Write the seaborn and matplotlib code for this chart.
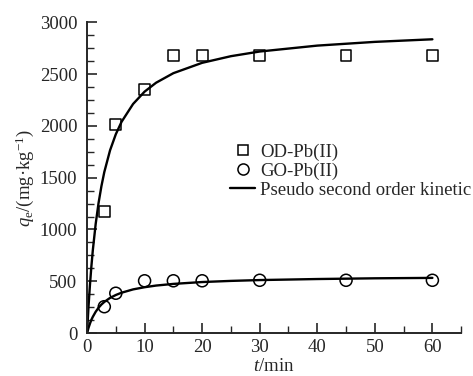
import numpy as np
import pandas as pd
import matplotlib
matplotlib.use("Agg")
import matplotlib.pyplot as plt
import seaborn as sns
from matplotlib.ticker import MultipleLocator
from matplotlib.lines import Line2D

# Experimental data
t_exp = [3, 5, 10, 15, 20, 30, 45, 60]
od_q = [1170, 2010, 2350, 2680, 2680, 2680, 2680, 2680]
go_q = [255, 385, 505, 505, 505, 510, 510, 510]

# Fitted curve
t_fit = [0, 0.25, 0.5, 0.75, 1, 1.5, 2, 2.5, 3, 4, 5, 6, 8, 10, 12, 15, 20, 25, 30, 40, 50, 60]
od_fit = [0, 250, 460, 640, 797, 1053, 1255, 1418, 1554, 1764, 1919, 2039, 2211, 2330, 2416,
          2508, 2608, 2672, 2717, 2774, 2810, 2835]
go_fit = [0, 50, 91, 128, 157, 206, 245, 276, 301, 340, 368, 390, 422, 443, 459,
          475, 493, 504, 512, 522, 529, 533]

sns.set_style("ticks")
plt.rcParams['font.family'] = ['Liberation Serif', 'DejaVu Serif']
plt.rcParams['mathtext.fontset'] = 'custom'
plt.rcParams['mathtext.rm'] = 'Liberation Serif'
plt.rcParams['mathtext.it'] = 'Liberation Serif:italic'

FS = 13.5

fig = plt.figure(figsize=(4.73, 3.76), dpi=100)
ax = fig.add_axes([0.184, 0.114, 0.791, 0.827])

df_exp = pd.DataFrame({"t": t_exp, "od": od_q, "go": go_q})
df_fit = pd.DataFrame({"t": t_fit, "od": od_fit, "go": go_fit})

sns.lineplot(data=df_fit, x="t", y="od", ax=ax, color="black", lw=1.7)
sns.lineplot(data=df_fit, x="t", y="go", ax=ax, color="black", lw=1.7)
sns.scatterplot(data=df_exp, x="t", y="od", ax=ax, marker="s", s=60,
                facecolor="none", edgecolor="black", linewidth=1.1, zorder=3)
sns.scatterplot(data=df_exp, x="t", y="go", ax=ax, marker="o", s=75,
                facecolor="none", edgecolor="black", linewidth=1.1, zorder=3)

ax.set_xlim(0, 65)
ax.set_ylim(0, 3000)
ax.set_xticks([0, 10, 20, 30, 40, 50, 60])
ax.set_yticks([0, 500, 1000, 1500, 2000, 2500, 3000])
ax.xaxis.set_minor_locator(MultipleLocator(5))
ax.yaxis.set_minor_locator(MultipleLocator(125))
ax.tick_params(which="major", direction="in", length=7, width=1.2, labelsize=FS, pad=4)
ax.tick_params(axis="y", which="major", pad=7)
ax.tick_params(which="minor", direction="in", length=5, width=1.0)
for s in ["top", "right"]:
    ax.spines[s].set_visible(False)
for s in ["left", "bottom"]:
    ax.spines[s].set_linewidth(1.4)

ax.set_xlabel(r"$\mathit{t}$/min", fontsize=FS, labelpad=2)
ax.set_ylabel(r"$\mathit{q}_\mathrm{e}$/(mg·kg$^{-1}$)", fontsize=FS, labelpad=3)

handles = [
    Line2D([], [], marker="s", ls="none", mfc="none", mec="black", ms=7.5, mew=1.1),
    Line2D([], [], marker="o", ls="none", mfc="none", mec="black", ms=8, mew=1.1),
    Line2D([], [], color="black", lw=1.7),
]
labels = ["OD-Pb(II)", "GO-Pb(II)", "Pseudo second order kinetic"]
ax.legend(handles, labels, loc="upper left", bbox_to_anchor=(0.382, 0.61),
          frameon=False, fontsize=FS, handlelength=1.35, handletextpad=0.25,
          labelspacing=0.1, borderaxespad=0, borderpad=0)

fig.savefig("out.png", dpi=100)
